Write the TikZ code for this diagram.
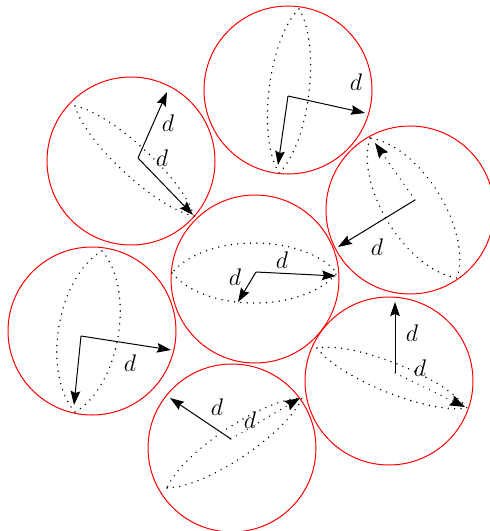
\documentclass[tikz,border=0pt]{standalone}
\usepackage{amsmath,amssymb}
\usetikzlibrary{arrows.meta}

\begin{document}
\begin{tikzpicture}[x=0.5pt,y=-0.5pt,
  every node/.style={font=\large,inner sep=0pt},
  sphere/.style={red,line width=0.5pt},
  lens/.style={black,line width=0.8pt,line cap=round,dash pattern=on 0pt off 3.2pt},
  radiusarrow/.style={black,line width=0.5pt,
    -{Stealth[length=7pt,width=4.8pt,inset=1pt]}},
  hiddenarrow/.style={black,line width=0.7pt,line cap=round,
    dash pattern=on 0pt off 3.2pt,
    -{Stealth[length=7.5pt,width=5.4pt,inset=1pt,line width=0.5pt]}}]
  \useasboundingbox (0,0) rectangle (489,531);

  % Seven balls of equal size; each shows a dotted disc seen at a slant.
  \foreach \cx/\cy in {288/90,131/161,410/210,255/279,92/331,389/381,232/448}
  {
    \draw[sphere] (\cx,\cy) circle[radius=42pt];
  }

  % Disc outline: two curves between the tips, bulging by \bulge on
  % either side of the chord.
  \foreach \ax/\ay/\bx/\by/\bulge in {
    299/9/279/173/20, 75/106/194/216/15, 370/138/457/278/29,
    172/273/337/273/30, 102/251/75/412/30, 317/348/467/408/15,
    167/488/302/398/16}
  {
    \pgfmathsetmacro{\lenab}{veclen(\bx-\ax,\by-\ay)}
    \pgfmathsetmacro{\nx}{-(\by-\ay)/\lenab*\bulge*4/3}
    \pgfmathsetmacro{\ny}{(\bx-\ax)/\lenab*\bulge*4/3}
    \draw[lens] (\ax,\ay)
      .. controls ({\ax+0.2*(\bx-\ax)+\nx},{\ay+0.2*(\by-\ay)+\ny})
      and ({\ax+0.8*(\bx-\ax)+\nx},{\ay+0.8*(\by-\ay)+\ny}) .. (\bx,\by)
      .. controls ({\ax+0.8*(\bx-\ax)-\nx},{\ay+0.8*(\by-\ay)-\ny})
      and ({\ax+0.2*(\bx-\ax)-\nx},{\ay+0.2*(\by-\ay)-\ny}) .. (\ax,\ay);
  }

  % Radii of length d; dotted ones run behind the ball.
  \draw[radiusarrow] (288,96) -- (365,113);
  \draw[radiusarrow] (288,96) -- (278,165);
  \node (dtop) at (356,82) {$d$};

  \draw[radiusarrow] (138,158) -- (167,92);
  \draw[radiusarrow] (138,158) -- (193,215);
  \node (dleftup) at (168,123) {$d$};
  \node (dleftmid) at (162,158) {$d$};

  \draw[hiddenarrow] (415,200) -- (375,143);
  \draw[radiusarrow] (415,200) -- (338,247);
  \node (dright) at (377,247) {$d$};

  \draw[radiusarrow] (256,272) -- (336,276);
  \draw[radiusarrow] (256,272) -- (238,302);
  \node (dmidright) at (282,260) {$d$};
  \node (dmidleft) at (235,277) {$d$};

  \draw[radiusarrow] (81,336) -- (171,350);
  \draw[radiusarrow] (81,336) -- (74,405);
  \node (dleft) at (130,363) {$d$};

  \draw[radiusarrow] (395,373) -- (395,302);
  \draw[hiddenarrow] (395,373) -- (465,407);
  \node (dlowup) at (412,333) {$d$};
  \node (dlowmid) at (420,368) {$d$};

  \draw[radiusarrow] (231,439) -- (170,398);
  \draw[hiddenarrow] (231,439) -- (300,398);
  \node (dbotleft) at (217,407) {$d$};
  \node (dbotmid) at (250,420) {$d$};
\end{tikzpicture}
\end{document}
